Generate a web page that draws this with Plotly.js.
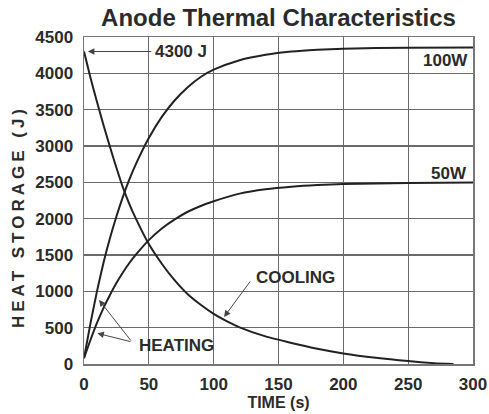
<!DOCTYPE html>
<html>
<head>
<meta charset="utf-8">
<script src="https://cdn.plot.ly/plotly-3.0.1.min.js"></script>
<style>
html,body{margin:0;padding:0;background:#fff;}
#chart{width:489px;height:414px;}
.ytitle{letter-spacing:4px;}
</style>
</head>
<body>
<div id="chart"></div>
<script>
// Time axis (s) for the heating curves
var heatTime = [0,5,10,15,20,25,30,35,40,50,60,70,80,90,100,120,140,160,180,200,250,300];
// Heat storage (J) while heating at 100 W
var heat100W = [80,560,1000,1390,1730,2030,2300,2540,2750,3110,3400,3630,3810,3950,4050,4180,4255,4300,4325,4340,4352,4355];
// Heat storage (J) while heating at 50 W
var heat50W = [80,330,565,770,950,1115,1260,1390,1505,1705,1865,1990,2095,2175,2240,2345,2405,2440,2462,2476,2492,2497];
// Time axis (s) for the cooling curve
var coolTime = [0,5,10,15,20,25,30,35,40,50,60,70,80,90,100,110,120,140,160,180,200,225,250,270,285];
// Heat storage (J) while cooling from 4300 J
var cooling = [4300,3940,3610,3290,2990,2700,2430,2200,2000,1650,1380,1150,960,815,690,590,505,380,290,210,145,85,40,12,0];

var xTicks = [0,50,100,150,200,250,300];
var yTicks = [0,500,1000,1500,2000,2500,3000,3500,4000,4500];

var FONT = 'Liberation Sans, Arial, sans-serif';
var TXT = '#2b2b2b';
var curve = {color:'#222', width:2, shape:'spline', smoothing:0.6};

var traces = [
  {x:heatTime, y:heat100W, mode:'lines', line:curve, name:'100W', hoverinfo:'skip'},
  {x:heatTime, y:heat50W, mode:'lines', line:curve, name:'50W', hoverinfo:'skip'},
  {x:coolTime, y:cooling, mode:'lines', line:curve, name:'Cooling', hoverinfo:'skip'}
];

var lab = {family:FONT, size:17, color:TXT, weight:'bold'};
var arrowBase = {xref:'x', yref:'y', axref:'x', ayref:'y', text:'', showarrow:true,
  arrowhead:2, arrowsize:1.3, arrowwidth:1, arrowcolor:'#444', standoff:0, startstandoff:0};

var annotations = [
  {xref:'x', yref:'y', x:75, y:4300, text:'4300 J', showarrow:false, font:lab},
  Object.assign({}, arrowBase, {x:3, y:4300, ax:53, ay:4300}),
  {xref:'x', yref:'y', x:297.5, y:4170, text:'100W', xanchor:'right', showarrow:false, font:lab},
  {xref:'x', yref:'y', x:297, y:2628, text:'50W', xanchor:'right', showarrow:false, font:lab},
  {xref:'x', yref:'y', x:131, y:1197, text:'COOLING', xanchor:'left', showarrow:false, font:lab},
  Object.assign({}, arrowBase, {x:108, y:647, ax:129, ay:1156}),
  {xref:'x', yref:'y', x:41, y:248, text:'HEATING', xanchor:'left', showarrow:false, font:lab},
  Object.assign({}, arrowBase, {x:11.6, y:881, ax:37, ay:303}),
  Object.assign({}, arrowBase, {x:10.3, y:422, ax:37, ay:303})
];

var axisCommon = {
  showgrid:true, gridcolor:'#6a6a6a', gridwidth:1.3,
  showline:true, mirror:true, linecolor:'#777', linewidth:1.5,
  zeroline:false, ticks:'',
  tickfont:{family:FONT, size:17, color:TXT, weight:'bold'},
  fixedrange:true
};

var layout = {
  width:489, height:414,
  margin:{l:84, r:16, t:37, b:50},
  paper_bgcolor:'#fff', plot_bgcolor:'#fff',
  showlegend:false,
  title:{text:'Anode Thermal Characteristics', x:0.5, xanchor:'center', xref:'paper',
         y:0.9565, yanchor:'middle', yref:'container',
         font:{family:FONT, size:24, color:TXT, weight:'bold'}},
  xaxis:Object.assign({}, axisCommon, {range:[0,300], tickvals:xTicks, ticktext:xTicks.map(String),
         ticklabelstandoff:4,
         title:{text:'TIME (s)', font:{family:FONT, size:16, color:TXT, weight:'bold'}, standoff:1}}),
  yaxis:Object.assign({}, axisCommon, {range:[0,4500], tickvals:yTicks, ticktext:yTicks.map(String),
         ticklabelstandoff:6,
         title:{text:'HEAT STORAGE (J)', font:{family:FONT, size:17, color:TXT, weight:'bold'}, standoff:6}}),
  annotations:annotations
};

Plotly.newPlot('chart', traces, layout, {displayModeBar:false, staticPlot:true}).then(function(gd){
  // nudge the rotated y-axis title along its own direction (toward its start, i.e. downward)
  var t = gd.querySelector('.ytitle');
  if (t) t.setAttribute('dx', '-16');
});
</script>
</body>
</html>
